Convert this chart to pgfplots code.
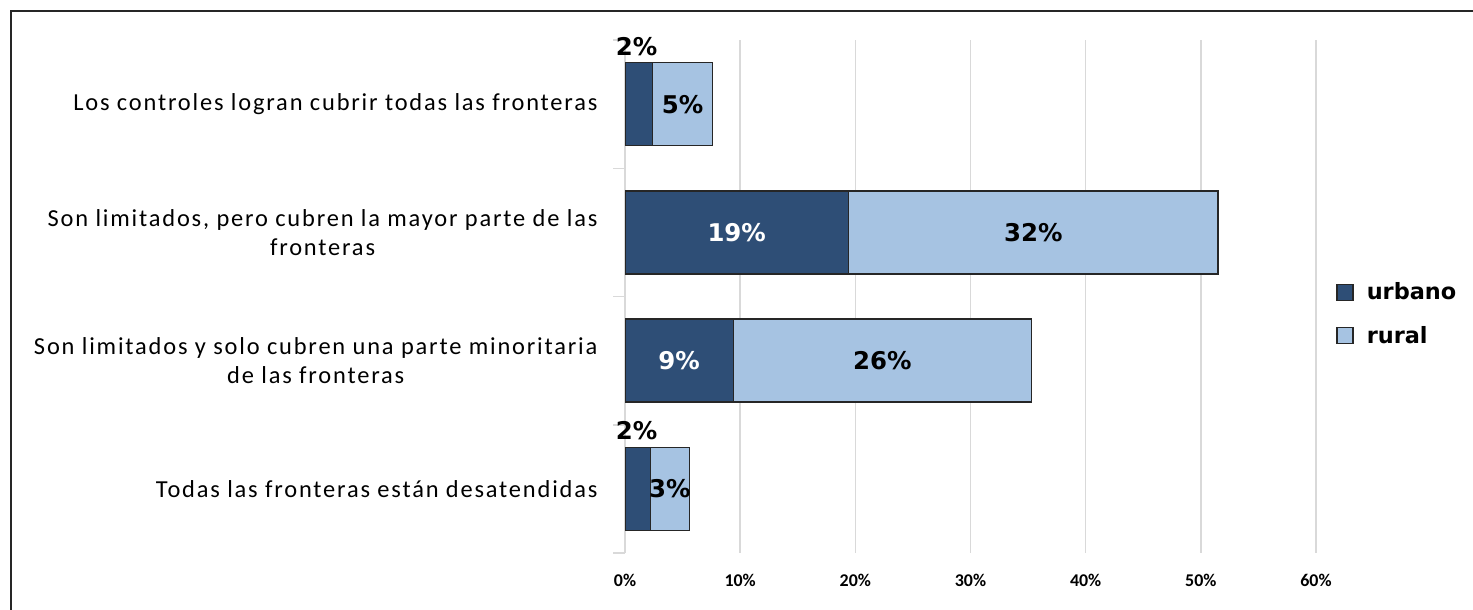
\documentclass[border=0pt]{standalone}
\usepackage{fontspec}
\setmainfont{Carlito}
\newfontfamily\catfont{Carlito}[LetterSpace=7.5]
\newfontfamily\dvfont{DejaVu Sans}
\usepackage{pgfplots}
\pgfplotsset{compat=1.18}
\definecolor{urb}{RGB}{46,78,118}
\definecolor{rur}{RGB}{166,195,226}
\definecolor{gridc}{RGB}{217,217,217}
\tikzset{lbl/.style={font=\dvfont\fontsize{24.5}{26}\selectfont\bfseries, inner sep=1bp}}
\pgfplotsset{common/.style={
  scale only axis,
  width=691bp, height=513bp,
  at={(625bp,57bp)}, anchor=south west,
  xmin=0, xmax=60, ymin=-0.5, ymax=3.5,
  y dir=reverse}}
\begin{document}
\begin{tikzpicture}
\useasboundingbox (0,0) rectangle (1473bp,610bp);
\draw[line width=2bp, black!85] (11bp,599bp) rectangle (1500bp,-30bp);
\begin{axis}[
  common,
  xbar stacked, bar width=83bp,
  axis lines*=left,
  x axis line style={draw=none},
  y axis line style={draw=gridc, line width=1.5bp},
  xtick={0,10,20,30,40,50,60},
  xticklabels={0\%,10\%,20\%,30\%,40\%,50\%,60\%},
  xtick style={draw=none},
  xticklabel style={font=\fontsize{18}{20}\selectfont\bfseries, yshift=-18bp},
  xmajorgrids, grid style={gridc, line width=1.5bp},
  ytick={0,1,2,3},
  yticklabels={Los controles logran cubrir todas las fronteras,
    {Son limitados, pero cubren la mayor parte de las\\fronteras},
    {Son limitados y solo cubren una parte minoritaria\\de las fronteras},
    Todas las fronteras están desatendidas},
  ytick style={draw=none},
  yticklabel style={align=center, font=\catfont\fontsize{24.5}{29}\selectfont, xshift=-24bp},
  legend style={at={(rel axis cs:1.025,0.466)}, anchor=west, draw=none, fill=none,
    font=\dvfont\fontsize{22.5}{25}\selectfont\bfseries, row sep=21bp,
    /tikz/every odd column/.append style={column sep=11bp}},
  legend cell align=left,
  legend image code/.code={\draw[#1, draw=black!85, line width=1.3bp] (0bp,-8bp) rectangle (16bp,8bp);},
]
\addplot[fill=urb, draw=black!85, line width=1.3bp] coordinates {(2.4,0) (19.4,1) (9.4,2) (2.2,3)};
\addlegendentry{urbano}
\addplot[fill=rur, draw=black!85, line width=1.3bp] coordinates {(5.2,0) (32.1,1) (25.9,2) (3.4,3)};
\addlegendentry{rural}
\end{axis}
\begin{axis}[
  common, clip=false,
  axis x line=none,
  axis y line*=left,
  y axis line style={draw=none},
  ytick={-0.5,0.5,1.5,2.5,3.5},
  yticklabels={},
  major tick length=12bp, tick align=outside,
  ytick style={draw=gridc, line width=1.5bp},
]
\addplot[draw=none, mark=none, nodes near coords, point meta=explicit symbolic,
  every node near coord/.append style={lbl, anchor=center, text=black}]
  coordinates {(5.0,0) [5\%] (35.45,1) [32\%] (22.35,2) [26\%] (3.9,3) [3\%]};
\addplot[draw=none, mark=none, nodes near coords, point meta=explicit symbolic,
  every node near coord/.append style={lbl, anchor=center, text=white}]
  coordinates {(9.7,1) [19\%] (4.7,2) [9\%]};
\addplot[draw=none, mark=none, nodes near coords, point meta=explicit symbolic,
  every node near coord/.append style={lbl, anchor=south, text=black}]
  coordinates {(1.0,-0.37) [2\%] (1.0,2.63) [2\%]};
\end{axis}
\end{tikzpicture}
\end{document}
